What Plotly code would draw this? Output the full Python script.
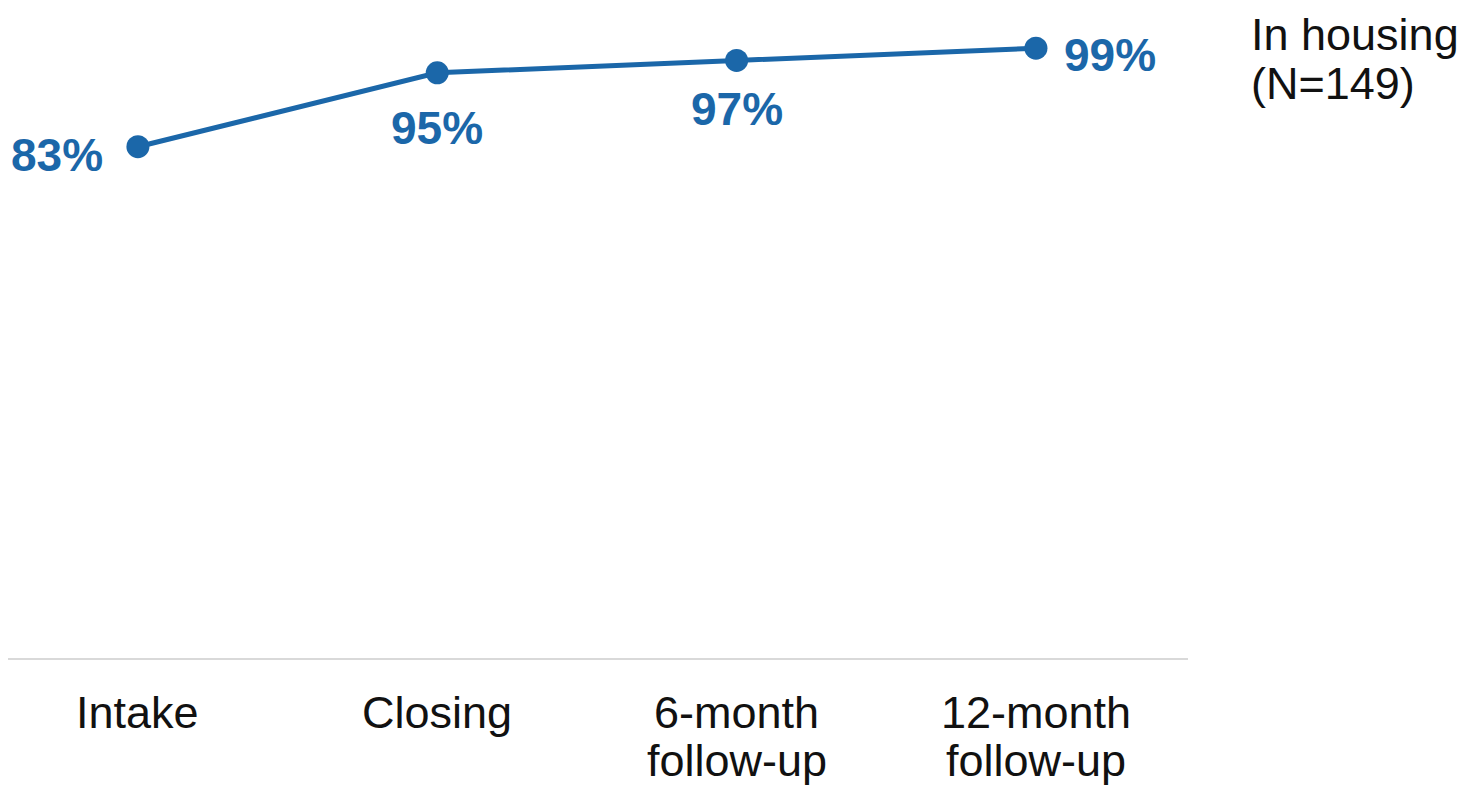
import plotly.graph_objects as go

categories = ["Intake", "Closing", "6-month<br>follow-up", "12-month<br>follow-up"]
values = [83, 95, 97, 99]
labels = ["83%", "95%", "97%", "99%"]
series_name = "In housing<br>(N=149)"

# label offsets (px) relative to each point: styling only
label_shifts = [(-81, -8), (0, -55), (0, -49), (74, -7)]

BLUE = "#1b67a9"
DARK = "#111111"
FONT = "Liberation Sans, Arial, sans-serif"

xs = list(range(len(categories)))

fig = go.Figure()
fig.add_trace(go.Scatter(
    x=xs, y=values,
    mode="lines+markers",
    line=dict(color=BLUE, width=5),
    marker=dict(color=BLUE, size=23),
    name=series_name.replace("<br>", " "),
    showlegend=False,
    cliponaxis=False,
))

# value labels
for xi, v, lab, (dx, dy) in zip(xs, values, labels, label_shifts):
    fig.add_annotation(
        x=xi, y=v, xref="x", yref="y", text=lab, showarrow=False,
        xanchor="center", yanchor="middle", xshift=dx, yshift=dy,
        font=dict(family=FONT, size=46, color=BLUE, weight="bold"),
    )

# category labels (one annotation per line for tight line spacing)
for xi, cat in zip(xs, categories):
    for j, line in enumerate(cat.split("<br>")):
        fig.add_annotation(
            x=xi, y=0, xref="x", yref="paper", text=line, showarrow=False,
            xanchor="center", yanchor="middle", yshift=-54 - 48 * j,
            font=dict(family=FONT, size=45, color=DARK),
        )

# series label at top right
for j, line in enumerate(series_name.split("<br>")):
    fig.add_annotation(
        x=1.0525, y=1, xref="paper", yref="paper", text=line, showarrow=False,
        xanchor="left", yanchor="top", yshift=34 - 49 * j, borderpad=0,
        font=dict(family=FONT, size=45, color=DARK),
    )

fig.update_layout(
    width=1476, height=786,
    margin=dict(l=0, r=296, t=34, b=136),
    paper_bgcolor="white", plot_bgcolor="white",
    font=dict(family=FONT, size=45, color=DARK),
)
fig.update_xaxes(
    range=[-0.434, 3.508],
    tickvals=xs, showticklabels=False,
    showgrid=False, zeroline=False,
    showline=True, linecolor="#d9d9d9", linewidth=2,
    ticks="",
)
fig.update_yaxes(
    range=[0, 100], visible=False, showgrid=False, zeroline=False,
)

fig.write_html("out.html")
